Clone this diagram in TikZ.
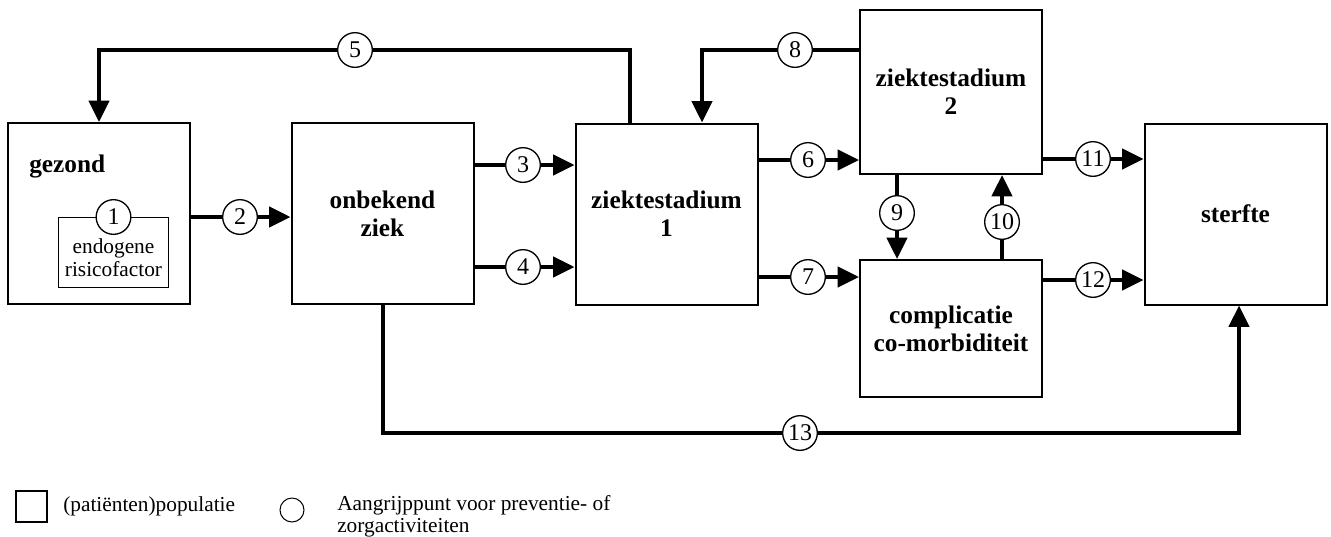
\documentclass[tikz,border=0pt]{standalone}
\usepackage{fontspec}
\setmainfont{Liberation Serif}
\usetikzlibrary{arrows.meta,calc,backgrounds}

\tikzset{
  stage/.style={draw,line width=1.5pt,align=center,inner sep=0pt,
    minimum width=136.5pt,minimum height=135.75pt,
    font=\fontsize{19}{21}\selectfont\bfseries},
  point/.style={circle,draw,line width=1pt,fill=white,inner sep=0pt,
    minimum size=26pt,font=\fontsize{18}{18}\selectfont},
  plain/.style={inner sep=0pt,font=\fontsize{16}{17.25}\selectfont},
  flow/.style={line width=3pt,-{Triangle[length=16pt,width=15pt]}},
}

\begin{document}
\begin{tikzpicture}[x=0.75pt,y=-0.75pt]
  \useasboundingbox (0,0) rectangle (1331,536);
  % --- populations ---
  \node[stage] (gezond) at (99,213.5) {};
  \node[plain,font=\fontsize{19}{21}\selectfont\bfseries,anchor=west] (gezondtxt) at (29,167) {gezond};
  \node[draw,line width=0.75pt,minimum width=83pt,minimum height=52.5pt,inner sep=0pt] (risico) at (113.5,252) {};
  \node[plain,align=center] (risicotxt) at (113.5,258) {endogene\\risicofactor};
  \node[stage] (onbekend) at (382.5,213.5) {onbekend\\ziek};
  \node[stage] (zs1) at (666.5,214) {ziektestadium\\1};
  \node[stage,minimum height=123pt] (zs2) at (951,92) {ziektestadium\\2};
  \node[stage,minimum height=102.75pt] (compl) at (951,328.5) {complicatie\\co-morbiditeit};
  \node[stage] (sterfte) at (1235.5,214) {sterfte};
  % --- points of action ---
  \node[point] (n1) at (113.5,217) {1};
  \node[point] (n2) at (240,217) {2};
  \node[point] (n3) at (523,165) {3};
  \node[point] (n4) at (523,267) {4};
  \node[point] (n5) at (355,50) {5};
  \node[point] (n6) at (808,160) {6};
  \node[point] (n7) at (808,277) {7};
  \node[point] (n8) at (795,50) {8};
  \node[point] (n9) at (897,213) {9};
  \node[point] (n10) at (1002,222) {10};
  \node[point] (n11) at (1093,159) {11};
  \node[point] (n12) at (1093,280) {12};
  \node[point] (n13) at (800,433) {13};
  % --- transitions (behind the circles) ---
  \begin{scope}[on background layer]
    \draw[flow] (gezond.east |- n2) -- (onbekend.west |- n2);
    \draw[flow] (onbekend.east |- n3) -- (zs1.west |- n3);
    \draw[flow] (onbekend.east |- n4) -- (zs1.west |- n4);
    \draw[flow] ($(zs1.north)+(-36.5,0)$) |- (n5.center) -| (gezond.north);
    \draw[flow] (zs1.east |- n6) -- (zs2.west |- n6);
    \draw[flow] (zs1.east |- n7) -- (compl.west |- n7);
    \draw[flow] (zs2.west |- n8) -- (n8.center) -| ($(zs1.north)+(35.5,0)$);
    \draw[flow] (zs2.south -| n9) -- (compl.north -| n9);
    \draw[flow] (compl.north -| n10) -- (zs2.south -| n10);
    \draw[flow] (zs2.east |- n11) -- (sterfte.west |- n11);
    \draw[flow] (compl.east |- n12) -- (sterfte.west |- n12);
    \draw[flow] (onbekend.south) |- (n13.center) -| ($(sterfte.south)+(3.5,0)$);
  \end{scope}
  % --- key ---
  \node[draw,line width=1pt,minimum size=23.25pt,inner sep=0pt] (keybox) at (31.5,506.5) {};
  \node[plain,anchor=west] (keyboxtxt) at (63,506) {(patiënten)populatie};
  \node[circle,draw,line width=0.75pt,minimum size=18pt,inner sep=0pt] (keycirc) at (292,510) {};
  \node[plain,font=\fontsize{16}{16.5}\selectfont,anchor=north west,align=left] (keycirctxt) at (337,495) {Aangrijppunt voor preventie- of\\zorgactiviteiten};
\end{tikzpicture}
\end{document}
